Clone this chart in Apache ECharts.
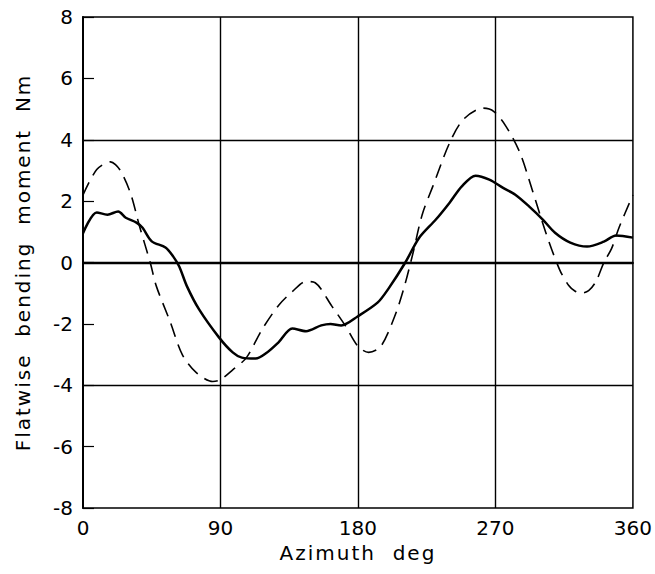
<!DOCTYPE html>
<html>
<head>
<meta charset="utf-8">
<script src="https://cdn.jsdelivr.net/npm/echarts@6/dist/echarts.min.js"></script>
<style>
  html, body { margin: 0; padding: 0; background: #fff; }
  #chart { width: 655px; height: 574px; }
</style>
</head>
<body>
<div id="chart"></div>
<script>
// azimuth (deg) and moment (Nm)
const solidAz = [0, 9, 16, 23, 28, 35, 39, 45, 54, 59, 63, 68, 76, 89, 98, 104, 113, 120, 128, 137, 146, 156, 162, 169, 180, 193, 200, 211, 220, 231, 240, 248, 257, 266, 275, 283, 292, 301, 309, 319, 330, 341, 349, 360];
const solidM = [0.95, 1.63, 1.56, 1.66, 1.46, 1.3, 1.13, 0.69, 0.49, 0.2, -0.13, -0.77, -1.53, -2.44, -2.93, -3.1, -3.13, -2.95, -2.6, -2.15, -2.24, -2.05, -2.0, -2.05, -1.75, -1.3, -0.85, 0, 0.8, 1.4, 1.95, 2.48, 2.83, 2.7, 2.43, 2.21, 1.83, 1.4, 0.97, 0.65, 0.52, 0.68, 0.88, 0.81];

const dashAz = [0, 9, 18, 24, 31, 37, 44, 48, 57, 65, 74, 85, 90, 98, 107, 117, 128, 137, 146, 152, 163, 172, 180, 187, 195, 204, 210, 216, 222, 229, 240, 249, 262, 269, 277, 286, 294, 303, 312, 318, 322, 326, 331, 336, 341, 346, 351, 360];
const dashM = [2.2, 3.03, 3.28, 3.03, 2.27, 1.18, 0, -0.77, -1.92, -3.0, -3.58, -3.88, -3.82, -3.5, -3.1, -2.2, -1.4, -0.95, -0.62, -0.66, -1.43, -2.08, -2.73, -2.93, -2.73, -1.76, -0.85, 0.3, 1.55, 2.48, 3.9, 4.66, 5.03, 4.92, 4.43, 3.58, 2.38, 0.97, -0.23, -0.75, -0.93, -1.0, -0.92, -0.6, 0, 0.45, 1.15, 2.2];

const yGrid = [4, -4];
const xGrid = [90, 180, 270];

const font = 'DejaVu Sans';
const chart = echarts.init(document.getElementById('chart'), null, { renderer: 'svg' });

chart.setOption({
  animation: false,
  backgroundColor: '#fff',
  grid: {
    left: 83, right: 19, top: 17, bottom: 66,
    show: true, borderColor: '#000', borderWidth: 1.5
  },
  xAxis: {
    type: 'value', min: 0, max: 360, interval: 90,
    name: 'Azimuth  deg', nameLocation: 'middle', nameGap: 33,
    nameTextStyle: { color: '#000', fontFamily: font, fontSize: 20 },
    axisLine: { lineStyle: { color: '#000', width: 2 } },
    axisTick: { show: false },
    axisLabel: { color: '#000', fontFamily: font, fontSize: 20, margin: 10 },
    splitLine: { show: false }
  },
  yAxis: {
    type: 'value', min: -8, max: 8, interval: 2,
    name: 'Flatwise  bending  moment  Nm', nameLocation: 'middle', nameGap: 50,
    nameTextStyle: { color: '#000', fontFamily: font, fontSize: 20 },
    axisLine: { lineStyle: { color: '#000', width: 2 } },
    axisTick: { inside: true, length: 11, lineStyle: { color: '#000', width: 1.2 } },
    axisLabel: { color: '#000', fontFamily: font, fontSize: 20, margin: 10 },
    splitLine: { show: false }
  },
  series: [
    {
      type: 'line',
      data: solidAz.map((a, i) => [a, solidM[i]]),
      smooth: 0.3,
      symbol: 'none',
      lineStyle: { color: '#000', width: 2.5 },
      markLine: {
        silent: true, symbol: 'none', label: { show: false },
        lineStyle: { color: '#000', width: 1.4, type: 'solid' },
        data: [
          ...yGrid.map(v => ({ yAxis: v })),
          ...xGrid.map(v => ({ xAxis: v })),
          { yAxis: 0, lineStyle: { width: 2.4 } }
        ]
      }
    },
    {
      type: 'line',
      data: dashAz.map((a, i) => [a, dashM[i]]),
      smooth: 0.3,
      symbol: 'none',
      lineStyle: { color: '#000', width: 1.6, type: [14, 8] }
    }
  ]
});

// the original lettering is widely spaced
document.querySelectorAll('#chart text').forEach(t => {
  if (/Azimuth|Flatwise/.test(t.textContent)) t.setAttribute('letter-spacing', '2');
});
</script>
</body>
</html>
